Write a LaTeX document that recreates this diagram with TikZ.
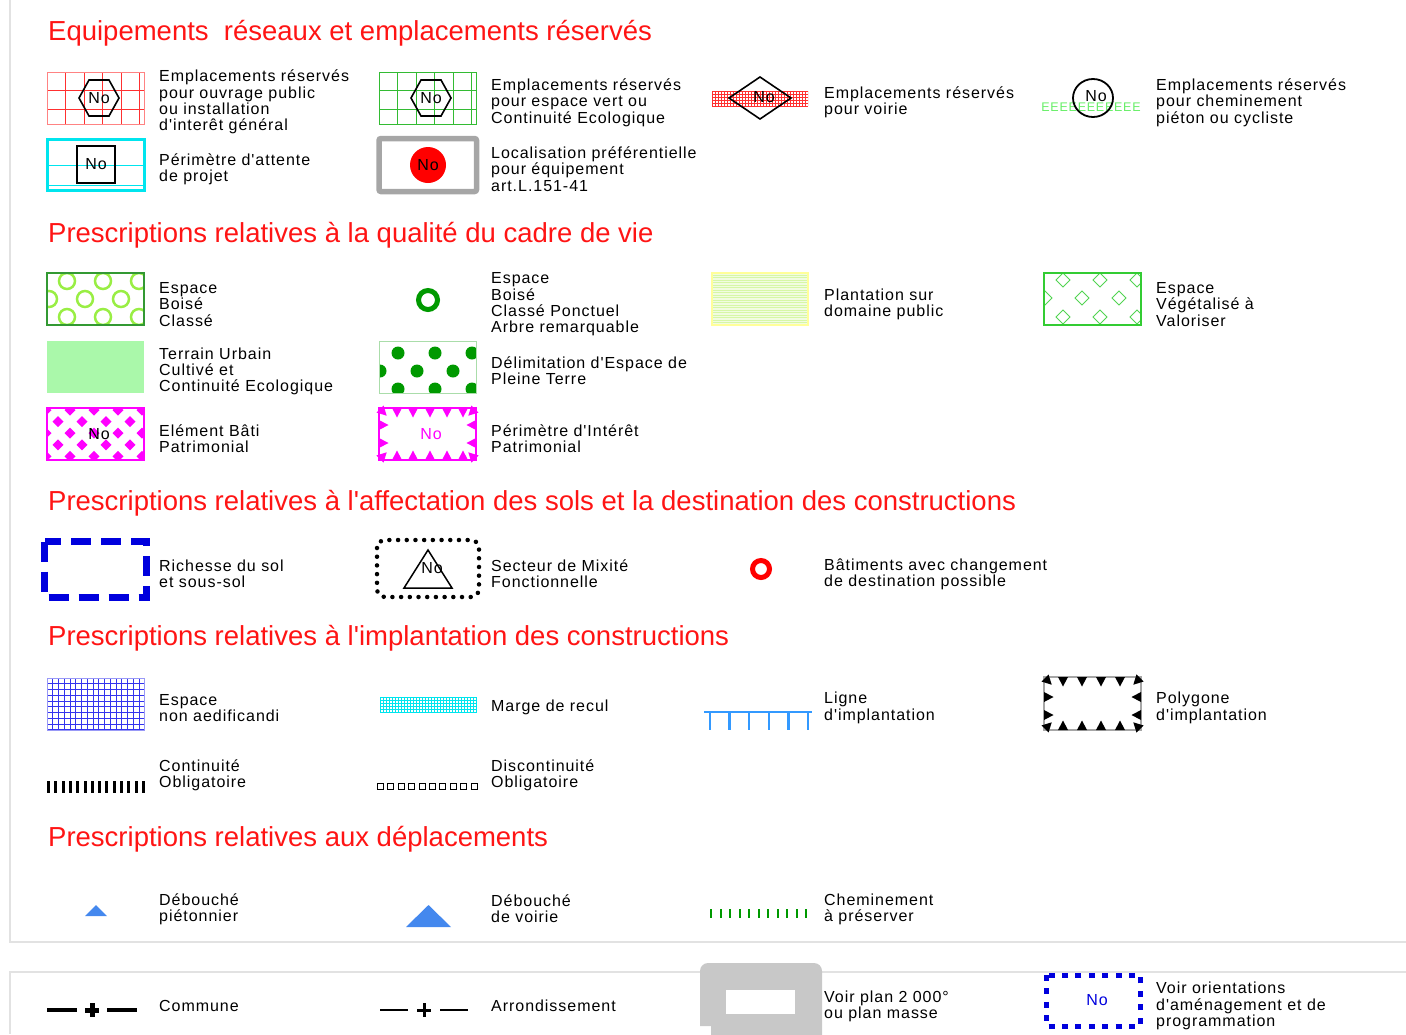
\documentclass[tikz,border=0pt]{standalone}
\usepackage{fontspec}
\setmainfont{Liberation Sans}[LetterSpace=6,Ligatures=TeXOff]
\newfontfamily\titlefont{Liberation Sans}
\usetikzlibrary{calc}

% colours of the legend
\definecolor{titlered}{HTML}{FF1414}
\definecolor{gridred}{HTML}{FF3030}
\definecolor{gridgreen}{HTML}{33BB33}
\definecolor{cyanline}{HTML}{00E5EE}
\definecolor{boxgray}{HTML}{A6A6A6}
\definecolor{ebcgreen}{HTML}{99EE44}
\definecolor{ebcframe}{HTML}{339933}
\definecolor{darkgreen}{HTML}{009900}
\definecolor{paleyellow}{HTML}{FFFF99}
\definecolor{plantgreen}{HTML}{D6F7A6}
\definecolor{vegegreen}{HTML}{33CC33}
\definecolor{tucgreen}{HTML}{AAF8AA}
\definecolor{ptframe}{HTML}{AADDAA}
\definecolor{patrimoine}{HTML}{FF00FF}
\definecolor{richblue}{HTML}{0000DD}
\definecolor{naeblue}{HTML}{3333EE}
\definecolor{lineblue}{HTML}{3399FF}
\definecolor{triblue}{HTML}{4488EE}
\definecolor{plangray}{HTML}{C8C8C8}
\definecolor{sepgray}{HTML}{E2E2E2}
\definecolor{cheminE}{HTML}{66EE66}

\newcommand*{\GridBox}[7]{% #1/#2 = corner, #3/#4 = corner, #5 = step, #6 = count, #7 = style
  \begin{scope}
    \clip (#1,#2) rectangle (#3,#4);
    \foreach \i in {0,...,#6} {
      \draw [#7] (#1+\i*#5,#2) -- (#1+\i*#5,#4);
      \draw [#7] (#1,#2+\i*#5) -- (#3,#2+\i*#5);
    }
  \end{scope}
}
\newcommand*{\Tooth}[4]{% #1 = x, #2 = y, #3 = rotation, #4 = colour
  \fill [#4, shift={(#1,#2)}, rotate=#3] (-5,0) -- (5,0) -- (0,9.5) -- cycle;
}
\newcommand*{\Hexagon}[2]{% #1 = x, #2 = y
  \draw [black, line width=1.6] (#1-20,#2) -- (#1-10,#2-18) -- (#1+10,#2-18)
    -- (#1+20,#2) -- (#1+10,#2+18) -- (#1-10,#2+18) -- cycle;
}

\tikzset{
  lbl/.style={anchor=west, align=left, inner sep=0, font=\fontsize{16}{16.3}\selectfont},
  sectitle/.style={anchor=base west, inner sep=0, text=titlered,
    font=\titlefont\fontsize{27.5}{30}\selectfont},
  nolbl/.style={inner sep=0, font=\fontsize{16}{16}\selectfont},
}

\begin{document}
\begin{tikzpicture}[x=1pt, y=-1pt]
  \useasboundingbox (0,0) rectangle (1406,1034);

  \draw [sepgray, line width=1.2] (10,0) -- (10,942) -- (1406,942);
  \draw [sepgray, line width=1.2] (10,1034) -- (10,972) -- (1406,972);

  % ---- equipements
  \node [sectitle] (titleEqu) at (48,40) {Equipements\ \ réseaux et emplacements réservés};

  \GridBox{47}{72}{144}{124}{18.5}{6}{gridred, line width=0.8}
  \draw [gridred!60, line width=0.6] (47,72) rectangle (144,124);
  \Hexagon{99}{98}
  \node [nolbl] (ouvrageNo) at (99,98) {No};
  \node [lbl] (ouvrage) at (159,102) {Emplacements réservés\\pour ouvrage public\\ou installation\\d'interêt général};

  \GridBox{379}{72}{476}{124}{18.5}{6}{gridgreen, line width=0.8}
  \draw [gridgreen, line width=0.6] (379,72) rectangle (476,124);
  \Hexagon{431}{98}
  \node [nolbl] (vertNo) at (431,98) {No};
  \node [lbl] (vert) at (491,102.5) {Emplacements réservés\\pour espace vert ou\\Continuité Ecologique};

  \GridBox{712}{91}{808}{106}{3}{33}{gridred, line width=0.5}
  \draw [black, line width=1.6] (729,98) -- (760,77) -- (791,98) -- (760,119) -- cycle;
  \node [nolbl] (voirieNo) at (764,97) {No};
  \node [lbl] (voirie) at (824,102.5) {Emplacements réservés\\pour voirie};

  \node [inner sep=0, text=cheminE, font=\fontsize{12.5}{12.5}\selectfont] (chemE) at (1091,107) {EEEEEEEEEEE};
  \draw [black, line width=1.8] (1093,98) ellipse [x radius=20, y radius=19];
  \node [nolbl] (chemNo) at (1096,96) {No};
  \node [lbl] (chemin) at (1156,102.5) {Emplacements réservés\\pour cheminement\\piéton ou cycliste};

  \draw [cyanline, line width=3] (47,139) rectangle (144,190);
  \draw [cyanline, line width=0.8] (47,165) -- (144,165);
  \draw [cyanline, line width=0.8] (47,185.5) -- (144,185.5);
  \node [nolbl, draw, line width=1.6, minimum width=38, minimum height=37] (projetNo) at (96,164.5) {No};
  \node [lbl] (projet) at (159,169.5) {Périmètre d'attente\\de projet};

  \draw [boxgray, line width=5.5, rounded corners=2] (379,138.5) rectangle (476.5,191.5);
  \node [nolbl, circle, fill=red, minimum size=36] (equipNo) at (428,165) {No};
  \node [lbl] (equip) at (491,169) {Localisation préférentielle\\pour équipement\\art.L.151-41};

  % ---- cadre de vie
  \node [sectitle] (titleVie) at (48,242) {Prescriptions relatives à la qualité du cadre de vie};

  \begin{scope}
    \clip (47,273) rectangle (144,325);
    \foreach \cx/\cy in {67/281,103/281,139/281,49/299,85/299,121/299,67/317,103/317,139/317}
      \draw [ebcgreen, line width=2.5] (\cx,\cy) circle [radius=8];
  \end{scope}
  \draw [ebcframe, line width=1.5] (47,273) rectangle (144,325);
  \node [lbl] (ebc) at (159,304.5) {Espace\\Boisé\\Classé};

  \draw [darkgreen, line width=5] (428,300) circle [radius=9.5];
  \node [lbl] (ebcp) at (491,304.5) {Espace\\Boisé\\Classé Ponctuel\\Arbre remarquable};

  \fill [plantgreen!35] (712,273) rectangle (808,325);
  \foreach \i in {0,...,20}
    \draw [plantgreen, line width=0.7] (712,275+\i*2.5) -- (808,275+\i*2.5);
  \draw [paleyellow, line width=1.2] (712,273) rectangle (808,325);
  \node [lbl] (plant) at (824,304.5) {Plantation sur\\domaine public};

  \begin{scope}
    \clip (1044,273) rectangle (1141,325);
    \foreach \cx/\cy in {1063/280,1100/280,1137/280,1045/298,1082/298,1119/298,1063/317,1100/317,1137/317}
      \draw [vegegreen!85, line width=1] (\cx-7,\cy) -- (\cx,\cy-7) -- (\cx+7,\cy) -- (\cx,\cy+7) -- cycle;
  \end{scope}
  \draw [vegegreen, line width=2] (1044,273) rectangle (1141,325);
  \node [lbl] (vege) at (1156,304.5) {Espace\\Végétalisé à\\Valoriser};

  \fill [tucgreen] (47,341) rectangle (144,393);
  \node [lbl] (tuc) at (159,371.5) {Terrain Urbain\\Cultivé et\\Continuité Ecologique};

  \begin{scope}
    \clip (379,341) rectangle (476,393);
    \foreach \cx/\cy in {398/353,435/353,472/353,380/371,417/371,453/371,398/389,435/389,472/389}
      \fill [darkgreen] (\cx,\cy) circle [radius=6.5];
  \end{scope}
  \draw [ptframe, line width=1] (379,341) rectangle (476,393);
  \node [lbl] (pleine) at (491,371) {Délimitation d'Espace de\\Pleine Terre};

  \begin{scope}
    \clip (47,408) rectangle (144,460);
    \foreach \r in {0,...,4} {
      \pgfmathsetmacro\rowx{46+12*mod(\r,2)}
      \pgfmathsetmacro\rowy{410+11.6*\r}
      \foreach \c in {0,...,4}
        \fill [patrimoine] (\rowx+24*\c-5.5,\rowy) -- (\rowx+24*\c,\rowy-5.5)
          -- (\rowx+24*\c+5.5,\rowy) -- (\rowx+24*\c,\rowy+5.5) -- cycle;
    }
  \end{scope}
  \draw [patrimoine, line width=2] (47,408) rectangle (144,460);
  \node [nolbl] (batiNo) at (99,434) {No};
  \node [lbl] (bati) at (159,439) {Elément Bâti\\Patrimonial};

  \draw [patrimoine, line width=1.5] (379,408) rectangle (476,460);
  \foreach \x in {397,413,430,447,463} {
    \Tooth{\x}{408}{0}{patrimoine}
    \Tooth{\x}{460}{180}{patrimoine}
  }
  \foreach \y in {425,443} {
    \Tooth{379}{\y}{90}{patrimoine}
    \Tooth{476}{\y}{-90}{patrimoine}
  }
  \Tooth{380}{409}{45}{patrimoine}
  \Tooth{475}{409}{-45}{patrimoine}
  \Tooth{380}{459}{135}{patrimoine}
  \Tooth{475}{459}{-135}{patrimoine}
  \node [nolbl, text=patrimoine] (perimNo) at (431,434) {No};
  \node [lbl] (perim) at (491,439) {Périmètre d'Intérêt\\Patrimonial};

  % ---- affectation des sols
  \node [sectitle] (titleSols) at (48,510) {Prescriptions relatives à l'affectation des sols et la destination des constructions};

  \draw [richblue, line width=7.5, dash pattern=on 20 off 10] (44.5,541.5) rectangle (146.5,597.5);
  \node [lbl] (richesse) at (159,574) {Richesse du sol\\et sous-sol};

  \draw [black, line width=4.5, line cap=round, dash pattern=on 0 off 8.7, rounded corners=8] (377,540) rectangle (479,597);
  \draw [black, line width=1.5] (404,588) -- (452,588) -- (428,550) -- cycle;
  \node [nolbl] (mixiteNo) at (432,568) {No};
  \node [lbl] (mixite) at (491,574) {Secteur de Mixité\\Fonctionnelle};

  \draw [red, line width=5] (761,569) circle [radius=8.5];
  \node [lbl] (batiments) at (824,574) {Bâtiments avec changement\\de destination possible};

  % ---- implantation
  \node [sectitle] (titleImpl) at (48,645) {Prescriptions relatives à l'implantation des constructions};

  \GridBox{47}{678}{144}{730}{5.75}{17}{naeblue, line width=0.8}
  \draw [naeblue!50, line width=0.6] (47,678) rectangle (144,730);
  \node [lbl] (nae) at (159,708) {Espace\\non aedificandi};

  \GridBox{380}{697}{476}{712}{3}{32}{cyanline, line width=0.5}
  \draw [cyanline, line width=0.6] (380,697) rectangle (476,712);
  \node [lbl] (recul) at (491,707.5) {Marge de recul};

  \draw [lineblue, line width=2.5] (704,712) -- (812,712);
  \foreach \i in {0,...,5}
    \draw [lineblue, line width=2.5] (710+\i*19.6,712) -- ++(0,18);
  \node [lbl] (ligne) at (824,708) {Ligne\\d'implantation};

  \draw [gray!70, line width=1.2] (1044,677) rectangle (1141,730);
  \foreach \x in {1063,1082,1101,1120} {
    \Tooth{\x}{677}{0}{black}
    \Tooth{\x}{730}{180}{black}
  }
  \foreach \y in {697,715} {
    \Tooth{1044}{\y}{90}{black}
    \Tooth{1141}{\y}{-90}{black}
  }
  \Tooth{1045}{678}{45}{black}
  \Tooth{1140}{678}{-45}{black}
  \Tooth{1045}{729}{135}{black}
  \Tooth{1140}{729}{-135}{black}
  \node [lbl] (polygone) at (1156,708) {Polygone\\d'implantation};

  \foreach \i in {0,...,13}
    \fill (47+\i*7.3,781) rectangle ++(3,12);
  \node [lbl] (continu) at (159,775) {Continuité\\Obligatoire};

  \foreach \i in {0,...,9}
    \draw [line width=1] (377.5+\i*10.4,783.5) rectangle ++(6,6);
  \node [lbl] (discontinu) at (491,775) {Discontinuité\\Obligatoire};

  % ---- deplacements
  \node [sectitle] (titleDepl) at (48,846) {Prescriptions relatives aux déplacements};

  \fill [triblue] (85,916) -- (107,916) -- (96,905) -- cycle;
  \node [lbl] (pieton) at (159,909) {Débouché\\piétonnier};

  \fill [triblue] (406,927) -- (451,927) -- (428.5,905) -- cycle;
  \node [lbl] (debvoirie) at (491,909) {Débouché\\de voirie};

  \foreach \i in {0,...,10}
    \draw [darkgreen, line width=2] (711+\i*9.5,909) -- ++(0,9);
  \node [lbl] (preserver) at (824,909) {Cheminement\\à préserver};

  % ---- limites
  \draw [line width=3.5] (47,1010) -- (77,1010) (107,1010) -- (137,1010);
  \draw [line width=5] (92,1003) -- (92,1017) (85,1010) -- (99,1010);
  \node [lbl] (commune) at (159,1005.5) {Commune};

  \draw [line width=2.5] (380,1010) -- (408,1010) (440,1010) -- (468,1010);
  \draw [line width=3] (424,1003) -- (424,1017) (417,1010) -- (431,1010);
  \node [lbl] (arrond) at (491,1005.5) {Arrondissement};

  \fill [plangray, rounded corners=8] (700,1026) -- (700,963) -- (822,963) -- (822,1050)
    -- (711,1050) [sharp corners] -- (711,1026) -- cycle;
  \fill [white] (726,990) rectangle (795,1014);
  \node [lbl] (plan) at (824,1006) {Voir plan 2 000°\\ou plan masse};

  \draw [richblue, line width=5, dash pattern=on 6 off 7.4] (1046,975) rectangle (1140,1026);
  \node [nolbl, text=richblue] (oapNo) at (1097,1000) {No};
  \node [lbl] (oap) at (1156,1006) {Voir orientations\\d'aménagement et de\\programmation};
\end{tikzpicture}
\end{document}
